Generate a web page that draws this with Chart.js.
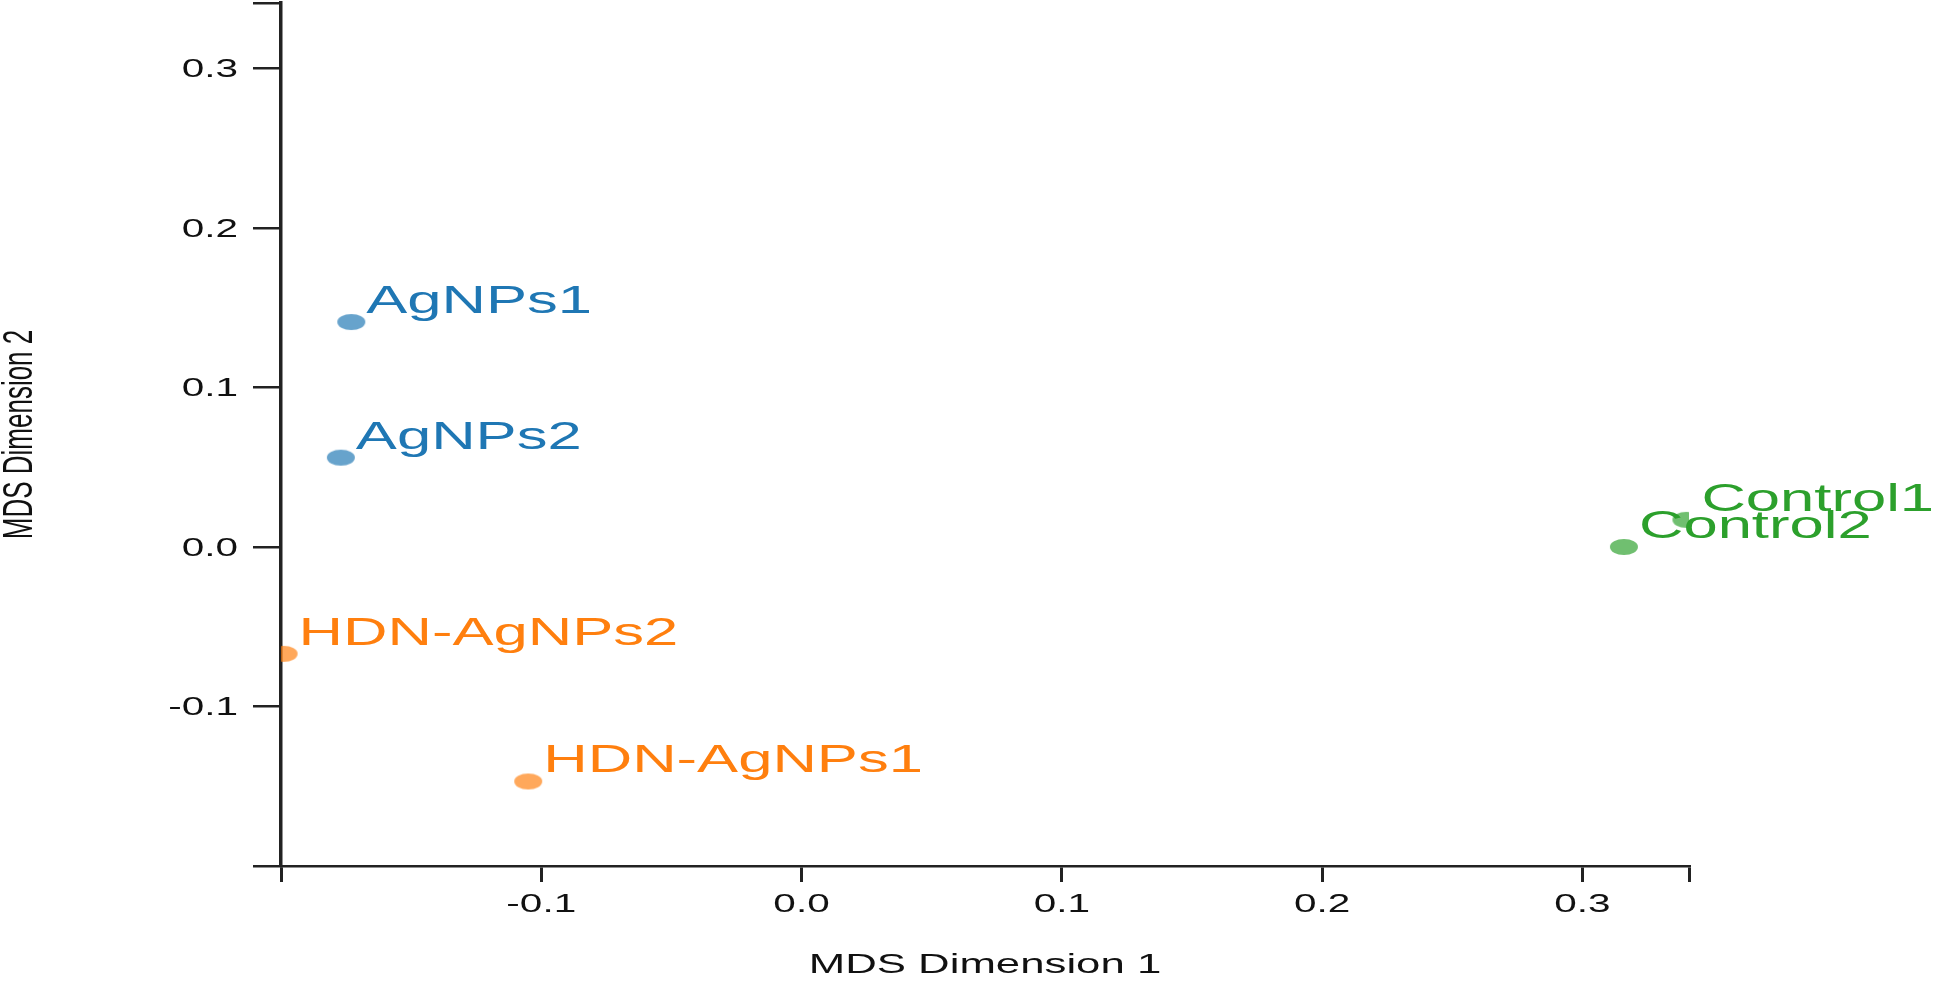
<!DOCTYPE html>
<html>
<head>
<meta charset="utf-8">
<script src="https://cdn.jsdelivr.net/npm/chart.js"></script>
<style>
  html, body { margin: 0; padding: 0; background: #fff; }
  #wrap { width: 1946px; height: 983px; }
</style>
</head>
<body>
<div id="wrap"><canvas id="mdsChart"></canvas></div>
<script>
// MDS coordinates
const sampleNames = ["AgNPs1", "AgNPs2", "HDN-AgNPs1", "HDN-AgNPs2", "Control1", "Control2"];
const sampleGroup = ["AgNPs", "AgNPs", "HDN-AgNPs", "HDN-AgNPs", "Control", "Control"];
const dim1 = [-0.173, -0.177, -0.105, -0.199, 0.340, 0.316];
const dim2 = [0.141, 0.056, -0.147, -0.067, 0.017, 0.000];
const groups = ["AgNPs", "HDN-AgNPs", "Control"];
const groupColors = { "AgNPs": "#1f77b4", "HDN-AgNPs": "#ff7f0e", "Control": "#2ca02c" };
const groupDotColors = { "AgNPs": "rgba(31,119,180,0.68)", "HDN-AgNPs": "rgba(255,127,14,0.68)", "Control": "rgba(44,160,44,0.68)" };

const xTicks = [-0.2, -0.1, 0.0, 0.1, 0.2, 0.3, 0.341];
const yTicks = [-0.2, -0.1, 0.0, 0.1, 0.2, 0.3, 0.341];
const xTickLabels = ["", "-0.1", "0.0", "0.1", "0.2", "0.3", ""];
const yTickLabels = ["", "-0.1", "0.0", "0.1", "0.2", "0.3", ""];

const FONT = '"Liberation Sans", Arial, sans-serif';
const STRETCH = 1.62; // the figure is wide, text is stretched sideways

function ellipseDot(color) {
  const c = document.createElement("canvas");
  c.width = 30;
  c.height = 18;
  const g = c.getContext("2d");
  g.fillStyle = color;
  g.beginPath();
  g.ellipse(15, 9, 14, 8, 0, 0, 2 * Math.PI);
  g.fill();
  return c;
}

function wideText(ctx, text, x, y, size, color, align) {
  ctx.save();
  ctx.translate(x, y);
  ctx.scale(STRETCH, 1);
  ctx.font = size + "px " + FONT;
  ctx.fillStyle = color;
  ctx.textAlign = align;
  ctx.textBaseline = "alphabetic";
  ctx.fillText(text, 0, 0);
  ctx.restore();
}

const datasets = groups.map((g) => {
  const pts = [];
  sampleNames.forEach((n, i) => {
    if (sampleGroup[i] === g) pts.push({ x: dim1[i], y: dim2[i], name: n });
  });
  return {
    label: g,
    data: pts,
    pointStyle: ellipseDot(groupDotColors[g]),
    pointRadius: 14,
    pointHoverRadius: 14,
    labelColor: groupColors[g],
  };
});

const labelPlugin = {
  id: "sampleLabels",
  afterDatasetsDraw(chart) {
    const ctx = chart.ctx;
    chart.data.datasets.forEach((ds, di) => {
      const meta = chart.getDatasetMeta(di);
      meta.data.forEach((pt, j) => {
        wideText(ctx, ds.data[j].name, pt.x + 15, pt.y - 9, 38, ds.labelColor, "left");
      });
    });
  },
  afterDraw(chart) {
    const ctx = chart.ctx;
    const xs = chart.scales.x;
    const ys = chart.scales.y;
    const area = chart.chartArea;

    xTicks.forEach((v, i) => {
      if (!xTickLabels[i]) return;
      wideText(ctx, xTickLabels[i], xs.getPixelForValue(v), 912, 25, "#111", "center");
    });
    yTicks.forEach((v, i) => {
      if (!yTickLabels[i]) return;
      wideText(ctx, yTickLabels[i], 238, ys.getPixelForValue(v) + 9, 25, "#111", "right");
    });

    // axis titles
    wideText(ctx, "MDS Dimension 1", (area.left + area.right) / 2, 973, 27, "#111", "center");

    ctx.save();
    ctx.translate(20, (area.top + area.bottom) / 2);
    ctx.rotate(-Math.PI / 2);
    ctx.scale(1, STRETCH);
    ctx.font = "26px " + FONT;
    ctx.fillStyle = "#111";
    ctx.textAlign = "center";
    ctx.textBaseline = "middle";
    ctx.fillText("MDS Dimension 2", 0, 0);
    ctx.restore();
  },
};

new Chart(document.getElementById("mdsChart"), {
  type: "scatter",
  data: { datasets: datasets },
  plugins: [labelPlugin],
  options: {
    responsive: true,
    maintainAspectRatio: false,
    animation: false,
    layout: { autoPadding: false, padding: { left: 253, right: 257, top: 3, bottom: 101 } },
    plugins: {
      legend: { display: false },
      tooltip: { enabled: false },
    },
    scales: {
      x: {
        type: "linear",
        min: -0.2,
        max: 0.341,
        afterBuildTicks: (s) => { s.ticks = xTicks.map((v) => ({ value: v })); },
        afterFit: (s) => { s.height = 16; },
        ticks: { display: false },
        grid: { drawOnChartArea: false, drawTicks: true, tickLength: 16, color: "#222", lineWidth: 3 },
        border: { display: true, color: "#222", width: 2.5 },
      },
      y: {
        type: "linear",
        min: -0.2,
        max: 0.341,
        afterBuildTicks: (s) => { s.ticks = yTicks.map((v) => ({ value: v })); },
        afterFit: (s) => { s.width = 28; },
        ticks: { display: false },
        grid: { drawOnChartArea: false, drawTicks: true, tickLength: 28, color: "#222", lineWidth: 2.5 },
        border: { display: true, color: "#222", width: 3.5 },
      },
    },
  },
});
</script>
</body>
</html>
